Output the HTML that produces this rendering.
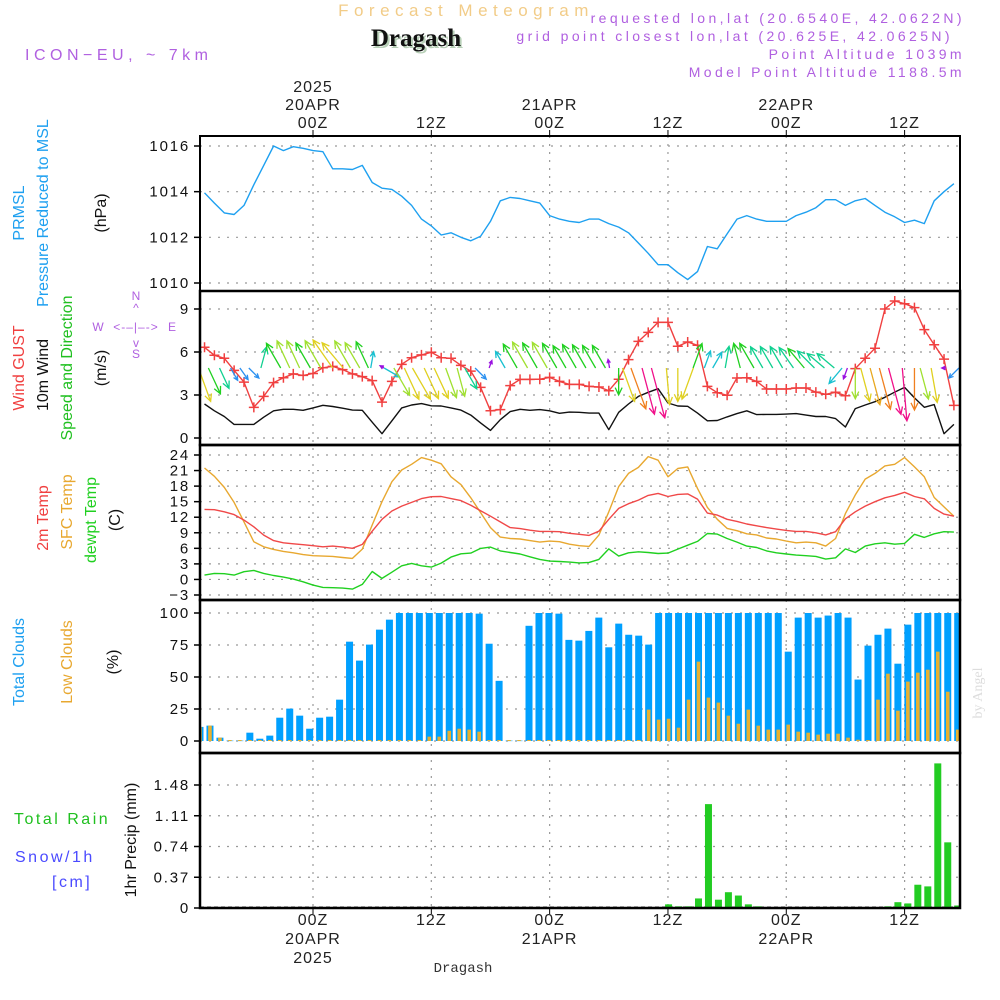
<!DOCTYPE html>
<html><head><meta charset="utf-8"><title>Forecast Meteogram - Dragash</title>
<style>
html,body{margin:0;padding:0;background:#fff;}
svg{display:block;font-family:"Liberation Sans",sans-serif;}
</style></head>
<body>
<svg id="chart" width="1000" height="1000" viewBox="0 0 1000 1000" xmlns="http://www.w3.org/2000/svg">
<g>
<text x="466" y="16" text-anchor="middle" font-size="17" fill="#f2cc88" letter-spacing="5.5">Forecast Meteogram</text>
<text x="418" y="48" text-anchor="middle" font-size="25" font-weight="bold" font-family="Liberation Serif,serif" fill="#b8d0b8">Dragash</text>
<text x="416" y="46" text-anchor="middle" font-size="25" font-weight="bold" font-family="Liberation Serif,serif" fill="#111">Dragash</text>
<text x="25" y="60" font-size="16" fill="#b060e0" letter-spacing="4.5">ICON−EU, ~ 7km</text>
<text x="965" y="23" text-anchor="end" font-size="14" fill="#b060e0" letter-spacing="3.4">requested lon,lat (20.6540E, 42.0622N)</text>
<text x="953" y="41" text-anchor="end" font-size="14" fill="#b060e0" letter-spacing="3.4">grid point closest lon,lat (20.625E, 42.0625N)</text>
<text x="965" y="59" text-anchor="end" font-size="14" fill="#b060e0" letter-spacing="3.4">Point Altitude 1039m</text>
<text x="965" y="77" text-anchor="end" font-size="14" fill="#b060e0" letter-spacing="3.4">Model Point Altitude 1188.5m</text>
</g>
<g font-size="16">
<text transform="translate(24,213) rotate(-90)" text-anchor="middle" fill="#1ea0f0">PRMSL</text>
<text transform="translate(48,213) rotate(-90)" text-anchor="middle" fill="#1ea0f0">Pressure Reduced to MSL</text>
<text transform="translate(106,213) rotate(-90)" text-anchor="middle" fill="#111">(hPa)</text>
<text transform="translate(24,368) rotate(-90)" text-anchor="middle" fill="#f04040">Wind GUST</text>
<text transform="translate(48,375) rotate(-90)" text-anchor="middle" fill="#111">10m Wind</text>
<text transform="translate(72,368) rotate(-90)" text-anchor="middle" fill="#20c020">Speed and Direction</text>
<text transform="translate(106,368) rotate(-90)" text-anchor="middle" fill="#111">(m/s)</text>
<g fill="#b060e0" font-size="12">
<text x="136" y="300" text-anchor="middle">N</text>
<text x="136" y="312" text-anchor="middle">^</text>
<text x="98" y="331" text-anchor="middle">W</text>
<text x="136" y="331" text-anchor="middle" letter-spacing="1">&lt;-–|–-&gt;</text>
<text x="172" y="331" text-anchor="middle">E</text>
<text x="136" y="347" text-anchor="middle">v</text>
<text x="136" y="358" text-anchor="middle">S</text>
</g>
<text transform="translate(48,518) rotate(-90)" text-anchor="middle" fill="#f04040">2m Temp</text>
<text transform="translate(72,512) rotate(-90)" text-anchor="middle" fill="#e8a830">SFC Temp</text>
<text transform="translate(96,520) rotate(-90)" text-anchor="middle" fill="#20d020">dewpt Temp</text>
<text transform="translate(120,520) rotate(-90)" text-anchor="middle" fill="#111">(C)</text>
<text transform="translate(24,662) rotate(-90)" text-anchor="middle" fill="#1ea0f0">Total Clouds</text>
<text transform="translate(72,662) rotate(-90)" text-anchor="middle" fill="#e8a830">Low Clouds</text>
<text transform="translate(118,662) rotate(-90)" text-anchor="middle" fill="#111">(%)</text>
<text x="14" y="824" fill="#20c020" letter-spacing="2.5">Total  Rain</text>
<text x="15" y="862" fill="#4a4aff" letter-spacing="2.5">Snow/1h</text>
<text x="52" y="887" fill="#4a4aff" letter-spacing="2.5">[cm]</text>
<text transform="translate(136,840) rotate(-90)" text-anchor="middle" fill="#111">1hr Precip (mm)</text>
<text transform="translate(982,693) rotate(-90)" text-anchor="middle" fill="#ddd" font-size="14" font-family="Liberation Serif,serif">by Angel</text>
</g>
<g id="grid"></g>
<g id="marks"></g>
<g id="axes"></g>
</svg>
<script>
// ---- data (hourly, t = -11 .. 65 hours from 00Z 20APR) ----
const startHour = -11;
const pressure = [1013.95,1013.5,1013.07,1013.0,1013.4,1014.3,1015.15,1016.0,1015.8,1015.97,1015.9,1015.8,1015.75,1015.0,1015.0,1014.97,1015.15,1014.4,1014.15,1014.1,1013.8,1013.4,1012.8,1012.5,1012.1,1012.2,1012.0,1011.85,1012.05,1012.7,1013.6,1013.75,1013.7,1013.6,1013.5,1012.95,1012.8,1012.7,1012.65,1012.8,1012.8,1012.6,1012.45,1012.2,1011.75,1011.3,1010.8,1010.8,1010.45,1010.15,1010.5,1011.6,1011.5,1012.15,1012.8,1012.95,1012.8,1012.7,1012.7,1012.7,1012.95,1013.1,1013.3,1013.65,1013.65,1013.4,1013.6,1013.7,1013.4,1013.1,1012.9,1012.65,1012.75,1012.6,1013.6,1014.0,1014.35];
const gust = [6.33,5.77,5.56,4.72,3.9,2.14,2.9,3.86,4.2,4.47,4.37,4.5,4.9,5.0,4.77,4.47,4.28,4.0,2.5,3.95,5.14,5.6,5.8,5.98,5.6,5.56,5.07,4.67,3.53,1.9,1.98,3.65,4.09,4.09,4.1,4.23,3.95,3.74,3.74,3.6,3.56,3.3,4.1,5.47,6.74,7.37,8.07,8.07,6.4,6.7,6.47,3.6,3.16,2.98,4.19,4.2,3.95,3.42,3.42,3.42,3.49,3.49,3.2,3.05,3.19,2.95,4.84,5.56,6.26,9.0,9.56,9.37,9.1,7.56,6.51,5.5,2.28];
const windSpeed = [2.37,1.9,1.5,0.95,0.95,0.95,1.45,1.9,2.0,2.0,1.93,2.1,2.28,2.2,2.08,1.95,1.93,1.1,0.3,1.2,2.1,2.3,2.4,2.25,2.23,2.1,1.95,1.6,1.05,0.53,1.28,1.84,2.0,1.93,1.98,1.9,1.72,1.81,1.79,1.74,1.74,0.58,1.79,2.37,2.9,3.19,3.44,2.44,2.23,2.21,1.74,1.2,1.22,1.47,1.7,1.9,1.63,1.65,1.65,1.67,1.7,1.6,1.5,1.5,1.35,0.77,2.05,2.3,2.53,2.84,3.2,3.53,2.8,2.14,2.33,0.3,0.95];
const windToDir = [160,155,155,150,145,135,15,330,335,335,330,330,325,320,330,330,335,10,300,120,150,155,150,155,155,160,165,150,135,20,330,330,330,330,330,330,330,330,330,330,330,350,180,160,160,165,165,175,180,200,20,20,30,10,345,330,330,330,330,325,320,315,310,310,220,200,180,165,165,165,165,175,180,165,170,270,225];
const temp2m = [13.5,13.45,13.05,12.5,11.45,10.16,8.55,7.5,7.07,6.88,6.7,6.5,6.3,6.43,6.24,6.0,6.75,9.3,11.6,13.2,14.15,14.85,15.6,15.95,16.0,15.6,15.2,14.3,13.25,12.2,11.1,10.0,9.8,9.5,9.26,9.26,9.2,8.9,8.7,8.5,9.3,11.6,13.7,14.6,15.3,16.2,16.6,16.0,16.4,16.5,15.5,12.8,12.4,11.6,11.2,10.7,10.35,10.0,9.7,9.45,9.26,9.26,9.0,8.6,9.2,11.7,13.05,14.15,15.0,15.75,16.2,16.8,16.0,15.55,13.7,12.6,12.2];
const tempSfc = [21.5,19.9,17.75,14.85,11.1,7.27,6.3,5.8,5.4,5.14,4.8,4.57,4.5,4.44,4.24,4.05,5.85,10.5,15.0,18.85,21.1,22.2,23.5,23.0,22.3,19.8,18.3,15.75,12.9,10.0,8.17,7.9,7.8,7.5,7.2,7.4,7.27,6.8,6.5,6.37,8.55,13.05,17.9,20.45,21.6,23.7,23.0,19.8,21.4,21.7,17.55,13.9,11.6,9.84,9.4,8.8,8.6,8.0,7.8,7.4,7.07,7.2,7.07,6.43,7.9,12.7,16.3,19.35,20.45,21.9,22.2,23.5,21.7,19.8,15.8,14.0,12.2];
const dewpt = [0.84,1.16,1.1,0.84,1.5,1.74,1.16,0.77,0.45,0.06,-0.45,-1.1,-1.54,-1.6,-1.67,-1.86,-0.96,1.54,0.2,1.4,2.64,3.1,2.64,2.38,3.15,4.3,4.95,5.08,5.98,6.24,5.5,5.2,4.9,4.37,3.86,3.54,3.47,3.34,3.2,3.28,3.86,5.9,4.5,5.14,5.34,5.2,5.0,5.08,5.85,6.6,7.33,8.87,8.75,7.9,7.2,6.43,6.17,5.5,5.14,4.9,4.7,4.57,4.44,3.92,4.18,5.9,5.2,6.43,6.88,7.07,6.8,6.95,8.7,8.1,8.8,9.2,9.13];
const totalClouds = [11,12,2.6,0.3,0.3,6.5,1.8,4.2,18.2,25.3,19.8,9.6,18.2,19,32.3,77.6,62.8,75.3,87,94.8,100,100,100,100,100,100,100,100,99.5,76,47,0.3,0.3,90,100,100,99.5,79,78.4,86,96.4,73.2,91.7,83,82.3,75.3,100,100,100,100,100,100,100,100,100,100,100,100,100,69.8,96.4,100,96.4,98,100,96.4,48,74.5,83,87.8,60.4,90.9,100,100,100,100,100];
const lowClouds = [11,12,2.6,0,0,0,0,0,0,0,0,0,0,0,0,0,0,0,0,0,0,0,0,3.4,3.4,8,9.6,8.9,7.3,0,0,0,0,0,0,0,0,0,0,0,0,0,0,0,0,24.5,16.7,17.4,10.4,32.3,62,33.9,30,19.8,13.5,24.5,12,8.9,8.9,12.8,7.3,6.5,5,5.7,5.7,2.6,1,0.3,32.3,52.6,23.7,46.4,53.4,55.7,69.8,38.5,8.9];
const precip = [0,0,0,0,0,0,0,0,0,0,0,0,0,0,0,0,0,0,0,0,0,0,0,0,0,0,0,0,0,0,0,0,0,0,0,0,0,0,0,0,0,0,0,0,0,0,0,0.044,0.02,0.02,0.115,1.25,0.1,0.19,0.15,0.044,0.02,0,0,0,0,0,0,0,0,0,0,0,0,0.02,0.07,0.055,0.28,0.26,1.74,0.79,0.03];
const pressureTicks = [1010,1012,1014,1016];
const windTicks = [0,3,6,9];
const tempTicks = [-3,0,3,6,9,12,15,18,21,24];
const cloudTicks = [0,25,50,75,100];
const precipTicks = [0,0.37,0.74,1.11,1.48];
const timeTicks = [0,12,24,36,48,60];
const topLabels = [["2025","20APR","00Z"],["","","12Z"],["","21APR","00Z"],["","","12Z"],["","22APR","00Z"],["","","12Z"]];
const bottomLabels = [["00Z","20APR","2025"],["12Z","",""],["00Z","21APR",""],["12Z","",""],["00Z","22APR",""],["12Z","",""]];

// ---- layout / scales ----
const NS = "http://www.w3.org/2000/svg";
const L = 200, R = 960;
const xT = h => 313 + h * 9.86;
const xB = i => 200 + i * 9.97;
const lin = (d0, d1, r0, r1) => v => r0 + (v - d0) * (r1 - r0) / (d1 - d0);
const yP = lin(1010, 1016, 283, 146);
const yW = lin(0, 9, 438, 309);
const yTm = lin(-3, 24, 595, 455);
const yC = lin(0, 100, 741, 613);
const yR = lin(0, 1.48, 908, 785);
const panels = [[136,291],[291,445],[445,600],[600,753],[753,908]];
const grid = document.getElementById('grid');
const marks = document.getElementById('marks');
const axes = document.getElementById('axes');
function mk(tag, attrs, parent) {
  const e = document.createElementNS(NS, tag);
  for (const k in attrs) e.setAttribute(k, attrs[k]);
  parent.appendChild(e);
  return e;
}
const defs = mk('defs', {}, document.getElementById('chart'));
const cp = mk('clipPath', {id: 'plotclip'}, defs);
mk('rect', {x: L, y: 136, width: R - L, height: 772}, cp);
marks.setAttribute('clip-path', 'url(#plotclip)');

for (const h of timeTicks) {
  const gl = mk('line', {x1: xT(h), x2: xT(h), y1: 136, y2: 908, stroke: '#999', 'stroke-width': 1.2, 'stroke-dasharray': '2,6'}, grid);
  
  
  const tk = mk('line', {x1: xT(h), x2: xT(h), y1: 130, y2: 136, stroke: '#000', 'stroke-width': 1}, axes);
  
  
  const tk2 = mk('line', {x1: xT(h), x2: xT(h), y1: 908, y2: 914, stroke: '#000', 'stroke-width': 1}, axes);
  
  
}
function yAxis(ticks, scale, fmt, name) {
  for (const v of ticks) {
    const y = scale(v);
    const g = mk('line', {x1: L, x2: R, y1: y, y2: y, stroke: '#999', 'stroke-width': 1.2, 'stroke-dasharray': '2,7'}, grid);
    
    
    mk('line', {x1: L - 6, x2: L, y1: y, y2: y, stroke: '#000', 'stroke-width': 1.5}, axes);
    const t = mk('text', {x: L - 10, y: y + 5, 'text-anchor': 'end', 'font-size': 15, fill: '#111', 'letter-spacing': 1.8}, axes);
    t.textContent = fmt(v);
    
    
  }
}
yAxis(pressureTicks, yP, v => String(v), 'pressure');
yAxis(windTicks, yW, v => String(v), 'wind');
yAxis(tempTicks, yTm, v => (v < 0 ? '−' + (-v) : String(v)), 'temp');
yAxis(cloudTicks, yC, v => String(v), 'cloud');
yAxis(precipTicks, yR, v => (v === 0 ? '0' : v.toFixed(2)), 'precip');

panels.forEach((p, k) => {
  const r = mk('rect', {x: L, y: p[0], width: R - L, height: p[1] - p[0], fill: 'none', stroke: '#000', 'stroke-width': k === 0 ? 2 : 2.5}, axes);
  
  
});

timeTicks.forEach((h, k) => {
  const x = xT(h);
  topLabels[k].forEach((s, j) => {
    if (!s) return;
    const t = mk('text', {x: x, y: 92 + j * 18, 'text-anchor': 'middle', 'font-size': 16, fill: '#222', 'letter-spacing': 1}, axes);
    t.textContent = s;
    
    
  });
  bottomLabels[k].forEach((s, j) => {
    if (!s) return;
    const t = mk('text', {x: x, y: 925 + j * 19, 'text-anchor': 'middle', 'font-size': 16, fill: '#222', 'letter-spacing': 1}, axes);
    t.textContent = s;
    
    
  });
});
const bl = mk('text', {x: 463, y: 972, 'text-anchor': 'middle', 'font-size': 14, fill: '#333', 'font-family': 'Liberation Mono,monospace'}, axes);
bl.textContent = 'Dragash';



function line(arr, yS, color, name, w) {
  const d = arr.map((v, i) => (i ? 'L' : 'M') + xT(startHour + i).toFixed(1) + ',' + yS(v).toFixed(1)).join('');
  const p = mk('path', {d: d, fill: 'none', stroke: color, 'stroke-width': w || 1.4, 'stroke-linejoin': 'round'}, marks);
  
  
  return p;
}
line(pressure, yP, '#1ea0f0', 'pressure-line');
line(windSpeed, yW, '#111', 'wind-speed-line');
line(gust, yW, '#f04040', 'gust-line');
gust.forEach((v, i) => {
  const x = xT(startHour + i), y = yW(v);
  const m = mk('path', {d: `M${x-5},${y}h10M${x},${y-5}v10`, stroke: '#f04040', 'stroke-width': 1.5}, marks);
  
  
});
function spdColor(s) {
  if (s < 0.8) return '#9a10e0';
  if (s < 1.1) return '#2a90f0';
  if (s < 1.4) return '#18c0d0';
  if (s < 1.7) return '#10d090';
  if (s < 1.95) return '#20d020';
  if (s < 2.15) return '#a0e030';
  if (s < 2.45) return '#e0d020';
  if (s < 2.8) return '#e8a820';
  if (s < 3.1) return '#f08020';
  return '#f0108a';
}
windToDir.forEach((deg, i) => {
  const s = windSpeed[i];
  const len = 15 * s;
  const a = deg * Math.PI / 180;
  const dx = Math.sin(a) * len, dy = -Math.cos(a) * len;
  const x0 = xT(startHour + i) - dx / 2, y0 = 368;
  const x1 = x0 + dx, y1 = y0 + dy;
  const hl = Math.min(8, Math.max(4, len * 0.35));
  const h1 = a + Math.PI - 0.45, h2 = a + Math.PI + 0.45;
  const d = `M${x0},${y0}L${x1},${y1}M${x1 + Math.sin(h1) * hl},${y1 - Math.cos(h1) * hl}L${x1},${y1}L${x1 + Math.sin(h2) * hl},${y1 - Math.cos(h2) * hl}`;
  const p = mk('path', {d: d, fill: 'none', stroke: spdColor(s), 'stroke-width': 1.3}, marks);
  
  
});
line(tempSfc, yTm, '#e8a830', 'sfc-temp-line');
line(temp2m, yTm, '#f04848', 't2m-line');
line(dewpt, yTm, '#20d020', 'dewpt-line');
totalClouds.forEach((v, i) => {
  const x = xB(i);
  const r = mk('rect', {x: x - 3.5, y: yC(v), width: 7, height: Math.max(0.5, yC(0) - yC(v)), fill: '#00a0ff'}, marks);
  
  
});
lowClouds.forEach((v, i) => {
  const x = xB(i);
  const h = Math.max(1, yC(0) - yC(v));
  const r = mk('rect', {x: x - 1.8, y: yC(0) - h, width: 3.6, height: h, fill: '#e8b030'}, marks);
  
  
});
const zl = mk('line', {x1: L, x2: R, y1: yR(0) - 1, y2: yR(0) - 1, stroke: '#333', 'stroke-width': 1, 'stroke-dasharray': '4,3'}, marks);


precip.forEach((v, i) => {
  if (v <= 0) return;
  const x = xB(i);
  const r = mk('rect', {x: x - 3.5, y: yR(v), width: 7, height: yR(0) - yR(v), fill: '#22cc22'}, marks);
  
  
});
</script>
</body></html>
